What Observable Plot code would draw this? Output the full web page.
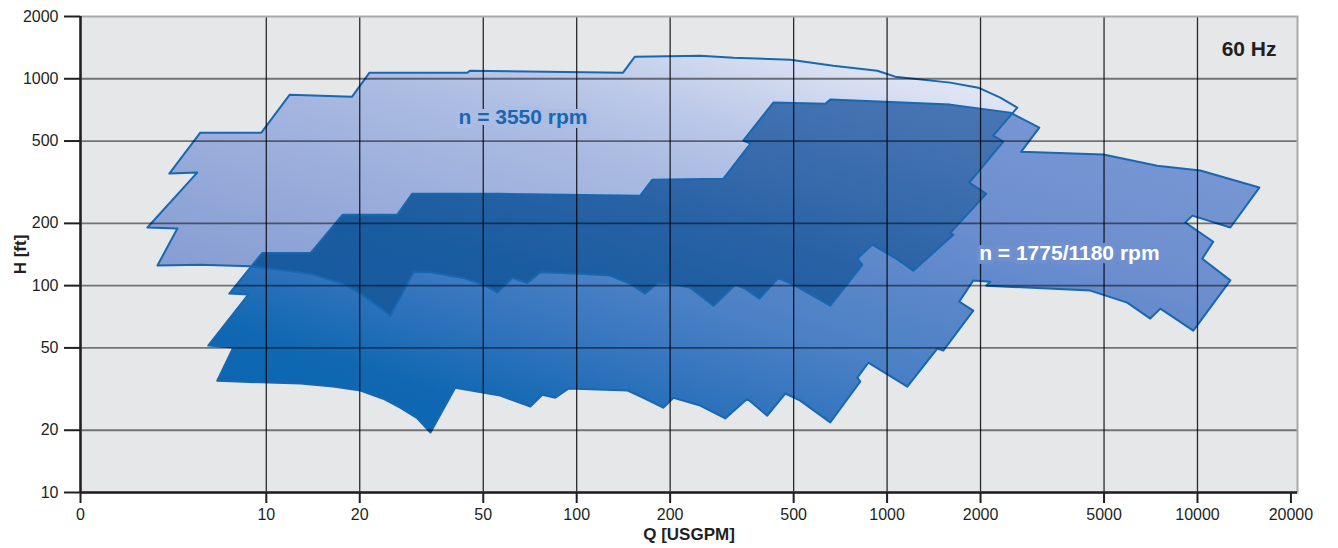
<!DOCTYPE html>
<html>
<head>
<meta charset="utf-8">
<script src="https://cdn.jsdelivr.net/npm/d3@7"></script>
<script src="https://cdn.jsdelivr.net/npm/@observablehq/plot@0.6"></script>
<style>
html,body{margin:0;padding:0;background:#fff;overflow:hidden;}
</style>
</head>
<body>
<div id="chart"></div>
<script>
// ---- axis ticks ----
const qTicks = [2.52, 10, 20, 50, 100, 200, 500, 1000, 2000, 5000, 10000, 20000];
const qTickLabels = ["0", "10", "20", "50", "100", "200", "500", "1000", "2000", "5000", "10000", "20000"];
const qGrid = [10, 20, 50, 100, 200, 500, 1000, 2000, 5000, 10000];
const hTicks = [10, 20, 50, 100, 200, 500, 1000, 2000];
const hTickLabels = ["10", "20", "50", "100", "200", "500", "1000", "2000"];
const hGrid = [20, 50, 100, 200, 500, 1000];

// ---- operating range n = 3550 rpm: [Q USGPM, H ft] ----
const region3550 = [
  [4.14,191],[5.99,352],[4.87,348],[6.13,549],[9.64,549],[11.9,838],[18.9,819],[21.5,1070],
  [44.4,1070],[45.4,1094],[141,1070],[154,1279],[250,1293],[320,1265],[488,1237],[671,1157],
  [930,1094],[1062,1024],[1598,958],[1967,906],[2316,810],[2627,725],[2198,531],[2368,497],
  [1840,315],[2087,278],[1598,180],[1634,176],[1214,118],[1079,134],[896,158],[802,135],
  [832,126],[656,80],[499,101],[446,109],[388,86.5],[349,96.7],[324,101],[276,80],
  [232,97.8],[200,102],[182,103],[166,91.5],[149,102],[128,112],[103,114],[76.3,116],
  [69.3,103],[62,109],[55.5,92.5],[50.8,100],[43.1,109],[33.8,116],[29.8,116],[25.1,71.6],
  [20.5,90],[17.7,102],[13.9,114],[8.88,124],[6.13,126],[4.46,125],[5.17,189]
];

// ---- operating range n = 1775/1180 rpm: [Q USGPM, H ft] ----
const region1775 = [
  [7.60,91.5],[9.71,144],[13.9,144],[17.6,220],[26.4,220],[29.5,278],[56.7,278],[160,272],
  [175,325],[297,329],[363,486],[344,502],[430,767],[632,758],[656,793],[1598,750],
  [2494,686],[3093,580],[2706,444],[4972,430],[7421,380],[10210,360],[15820,298],[12760,191],
  [9623,218],[9136,202],[11240,163],[10360,135],[12760,106],[9695,60.6],[7591,77.4],[7046,69.3],
  [5939,82.8],[4514,94.6],[2087,100],[2150,104.5],[1895,106],[1708,83.7],[1895,75.7],[1517,48.5],
  [1451,49.6],[1162,32.5],[870,42.4],[802,35.9],[820,34.4],[656,21.8],[525,27.8],[470,30.1],
  [411,23.5],[354.5,28.4],[301,22.8],[250,26.3],[205,28.7],[190,25.7],[164,28.7],[146,31.1],
  [94,31.8],[85.3,28.7],[77.5,29.7],[70.9,26.0],[56.7,29.4],[40.6,32.1],[33.8,19.5],[30.7,22.8],
  [27.0,25.7],[23.8,28.4],[20.1,31.1],[16.4,32.5],[12.9,33.6],[10.1,34.0],[6.95,34.7],[7.83,50.2],
  [6.50,51.3],[8.75,90.5]
];

// ---- annotations ----
const speedLabels = ["n = 3550 rpm", "n = 1775/1180 rpm"];
const speedLabelQ = [41.6, 1980];
const speedLabelH = [650, 143];
const freqLabel = "60 Hz";
const xTitle = "Q [USGPM]";
const yTitle = "H [ft]";

// ---- build ----
const rows = pts => pts.map(([q, h]) => ({q, h}));
const A = rows(region3550), B = rows(region1775);
const labelRows = speedLabels.map((t, i) => ({t, q: speedLabelQ[i], h: speedLabelH[i]}));
const poly = (data, o) => Plot.line(data, {x: "q", y: "h", curve: "linear-closed", ...o});

const W = 1338, H = 548, mL = 80, mR = 41, mT = 16, mB = 56;
const fw = W - mL - mR, fh = H - mT - mB;
const ink = "#231f20";
const blue = "#1767b2";

const chart = Plot.plot({
  width: W, height: H,
  marginLeft: mL, marginRight: mR, marginTop: mT, marginBottom: mB,
  style: {fontFamily: "'Liberation Sans', Arial, Helvetica, sans-serif", fontSize: "16px", color: ink, background: "#fff", overflow: "visible"},
  x: {type: "log", domain: [2.52, 21000], axis: null},
  y: {type: "log", domain: [10, 2000], axis: null},
  marks: [
    Plot.frame({fill: "#e6e7e8", stroke: "none"}),
    poly(A, {fill: "url(#gradA)", stroke: "none"}),
    poly(B, {fill: "url(#gradB)", stroke: "none"}),
    poly(A, {fill: "url(#gradAB)", stroke: "none"}),
    poly(A, {stroke: blue, strokeWidth: 2}),
    poly(B, {stroke: blue, strokeWidth: 2}),
    Plot.ruleX(qGrid, {stroke: "#000", strokeOpacity: 0.82, strokeWidth: 1.3}),
    Plot.ruleY(hGrid, {stroke: "#000", strokeOpacity: 0.5, strokeWidth: 1.8}),
    // label halos then labels
    Plot.text([labelRows[0]], {x: "q", y: "h", text: "t", textAnchor: "start", lineAnchor: "middle", fontWeight: "bold", fontSize: 21, fill: "#adbce2", stroke: "#adbce2", strokeWidth: 8}),
    Plot.text([labelRows[0]], {x: "q", y: "h", text: "t", textAnchor: "start", lineAnchor: "middle", fontWeight: "bold", fontSize: 21, fill: blue}),
    Plot.text([labelRows[1]], {x: "q", y: "h", text: "t", textAnchor: "start", lineAnchor: "middle", fontWeight: "bold", fontSize: 21, fill: "#6f8fcf", stroke: "#6f8fcf", strokeWidth: 8}),
    Plot.text([labelRows[1]], {x: "q", y: "h", text: "t", textAnchor: "start", lineAnchor: "middle", fontWeight: "bold", fontSize: 21, fill: "#ffffff"}),
    Plot.text([freqLabel], {text: d => d, frameAnchor: "top-right", textAnchor: "end", lineAnchor: "middle", dx: -21, dy: 33, fontWeight: "bold", fontSize: 21, fill: ink}),
    // border
    Plot.frame({stroke: "#a9a9a9", strokeWidth: 2, fill: "none"}),
    Plot.ruleX([2.52], {stroke: ink, strokeWidth: 2.5}),
    Plot.ruleY([10], {stroke: ink, strokeWidth: 2.5}),
    // ticks
    Plot.ruleX(qTicks, {stroke: ink, strokeWidth: 2, insetTop: fh, insetBottom: -11}),
    Plot.ruleY(hTicks, {stroke: ink, strokeWidth: 2, insetLeft: -16, insetRight: fw}),
    Plot.text(qTicks, {x: d => d, text: (d, i) => qTickLabels[i], frameAnchor: "bottom", textAnchor: "middle", lineAnchor: "middle", dy: 22, fontSize: 16, fill: ink}),
    Plot.text(hTicks, {y: d => d, text: (d, i) => hTickLabels[i], frameAnchor: "left", textAnchor: "end", lineAnchor: "middle", dx: -22, fontSize: 16, fill: ink}),
    // axis titles
    Plot.text([xTitle], {text: d => d, frameAnchor: "bottom", textAnchor: "middle", lineAnchor: "middle", dy: 41.6, fontWeight: "bold", fontSize: 17, fill: ink}),
    Plot.text([yTitle], {text: d => d, frameAnchor: "left", textAnchor: "middle", lineAnchor: "middle", rotate: -90, dx: -60.4, fontWeight: "bold", fontSize: 17, fill: ink})
  ]
});

// gradients and the overlap clip
const ns = "http://www.w3.org/2000/svg";
const lineGroups = chart.querySelectorAll('g[aria-label="line"]');
const dB = lineGroups[1].querySelector("path").getAttribute("d");
const defs = document.createElementNS(ns, "defs");
defs.innerHTML = `
<linearGradient id="gradA" x1="0" y1="1" x2="1" y2="0">
  <stop offset="0" stop-color="#8098d0"/>
  <stop offset="0.24" stop-color="#90a5d7"/>
  <stop offset="0.58" stop-color="#abbbe2"/>
  <stop offset="0.7" stop-color="#bbc8e8"/>
  <stop offset="0.89" stop-color="#dde3f3"/>
  <stop offset="1" stop-color="#e9edf7"/>
</linearGradient>
<linearGradient id="gradB" x1="0" y1="1" x2="1" y2="0">
  <stop offset="0" stop-color="#0864b0"/>
  <stop offset="0.17" stop-color="#1068b2"/>
  <stop offset="0.3" stop-color="#3274bd"/>
  <stop offset="0.42" stop-color="#4a80c5"/>
  <stop offset="0.7" stop-color="#6e8fcf"/>
  <stop offset="1" stop-color="#7d9ad5"/>
</linearGradient>
<linearGradient id="gradAB" x1="0" y1="1" x2="1" y2="0">
  <stop offset="0" stop-color="#14599c"/>
  <stop offset="0.3" stop-color="#1a5ca0"/>
  <stop offset="0.5" stop-color="#2862a5"/>
  <stop offset="0.6" stop-color="#3268aa"/>
  <stop offset="0.8" stop-color="#4472b1"/>
  <stop offset="1" stop-color="#4c79b5"/>
</linearGradient>
<clipPath id="clipB"><path d="${dB}"/></clipPath>`;
chart.insertBefore(defs, chart.firstChild);
lineGroups[2].setAttribute("clip-path", "url(#clipB)");

document.getElementById("chart").append(chart);
</script>
</body>
</html>
